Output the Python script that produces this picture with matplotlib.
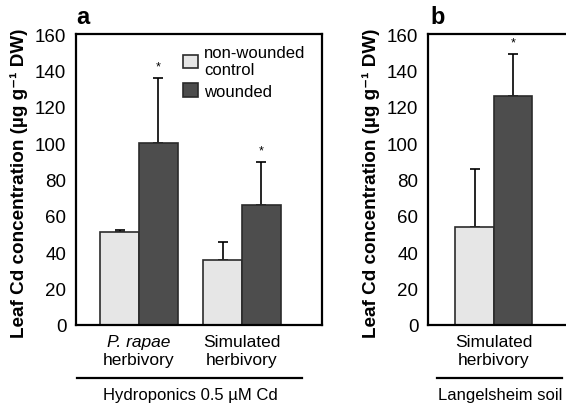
import numpy as np
import matplotlib.pyplot as plt
from matplotlib.patches import Patch
from matplotlib.transforms import blended_transform_factory

plt.rcParams['font.family'] = ['Liberation Sans', 'DejaVu Sans']

# panel a: hydroponics
groups_a = [("P. rapae", "herbivory"), ("Simulated", "herbivory")]
italic_a = [True, False]
control_a = [51, 36]
control_a_err = [1.5, 9.5]
wounded_a = [100, 66]
wounded_a_err = [36, 23.5]

# panel b: soil
groups_b = [("Simulated", "herbivory")]
italic_b = [False]
control_b = [54]
control_b_err = [32]
wounded_b = [126]
wounded_b_err = [23]

light = "#e6e6e6"
dark = "#4d4d4d"
edge = "#2b2b2b"
ylabel = "Leaf Cd concentration (\u00b5g g\u207b\u00b9 DW)"

W, H = 566, 406
fig = plt.figure(figsize=(W / 100, H / 100), dpi=100)

def px_axes(l, r, t, b):
    return fig.add_axes([l / W, 1 - b / H, (r - l) / W, (b - t) / H])

ax_a = px_axes(76, 322, 35, 326)
ax_b = px_axes(428, 572, 35, 326)

bw = 0.375

def draw(ax, groups, italic, ctl, ctl_err, wnd, wnd_err):
    x = np.arange(len(groups))
    ax.bar(x - bw / 2, ctl, bw, color=light, edgecolor=edge, linewidth=1.2, zorder=2)
    ax.bar(x + bw / 2, wnd, bw, color=dark, edgecolor=edge, linewidth=1.2, zorder=2)
    ax.errorbar(x - bw / 2, ctl, yerr=[np.zeros(len(x)), ctl_err], fmt="none",
                ecolor="black", elinewidth=1.2, capsize=3.5, capthick=1.2, zorder=1)
    ax.errorbar(x + bw / 2, wnd, yerr=[np.zeros(len(x)), wnd_err], fmt="none",
                ecolor="black", elinewidth=1.2, capsize=3.5, capthick=1.2, zorder=1)
    for xi, v, e in zip(x + bw / 2, wnd, wnd_err):
        ax.text(xi, v + e + 3, "*", ha="center", va="bottom", fontsize=9)
    ax.set_ylim(0, 160)
    ax.set_yticks(np.arange(0, 161, 20))
    ax.set_xticks(x)
    ax.set_xticklabels([])
    ax.tick_params(axis="both", length=0, labelsize=13.5, pad=7)
    # two-line category labels, first line may be italic
    tr = blended_transform_factory(ax.transData, ax.transAxes)
    for xi, (l1, l2), it in zip(x, groups, italic):
        ax.text(xi, -17 / 291, l1, transform=tr, ha="center", va="center",
                fontsize=12.5, fontstyle="italic" if it else "normal")
        ax.text(xi, -35 / 291, l2, transform=tr, ha="center", va="center", fontsize=12.5)
    for s in ax.spines.values():
        s.set_linewidth(1.6)
    ax.set_ylabel(ylabel, fontsize=13.6, fontweight="bold")

draw(ax_a, groups_a, italic_a, control_a, control_a_err, wounded_a, wounded_a_err)
draw(ax_b, groups_b, italic_b, control_b, control_b_err, wounded_b, wounded_b_err)

ax_a.set_xlim(-0.612, 1.777)
ax_b.set_xlim(-0.64, 0.76)
ax_a.yaxis.set_label_coords(-48 / 246, 0.49)
ax_b.yaxis.set_label_coords(-48 / 144, 0.49)

ax_a.text(0.0, 1.02, "a", transform=ax_a.transAxes, fontsize=17, fontweight="bold",
          ha="left", va="bottom")
ax_b.text(0.02, 1.02, "b", transform=ax_b.transAxes, fontsize=17, fontweight="bold",
          ha="left", va="bottom")

handles = [Patch(facecolor=light, edgecolor=edge, linewidth=1.2),
           Patch(facecolor=dark, edgecolor=edge, linewidth=1.2)]
ax_a.legend(handles, ["non-wounded\ncontrol", "wounded"], loc="upper left",
            bbox_to_anchor=(100 / 246, 0.985), frameon=False, fontsize=12,
            handlelength=0.9, handleheight=0.9, handletextpad=0.4,
            labelspacing=0.35, borderaxespad=0)

# group lines and captions under the panels
fig.add_artist(plt.Line2D([77 / W, 302 / W], [1 - 379 / H] * 2, color="black", lw=1.6))
fig.text(190 / W, 1 - 396 / H, "Hydroponics 0.5 \u00b5M Cd", ha="center", va="center", fontsize=12)
fig.add_artist(plt.Line2D([437 / W, 562 / W], [1 - 379 / H] * 2, color="black", lw=1.6))
fig.text(500 / W, 1 - 396 / H, "Langelsheim soil", ha="center", va="center", fontsize=12)

fig.savefig("out.png", dpi=100)
